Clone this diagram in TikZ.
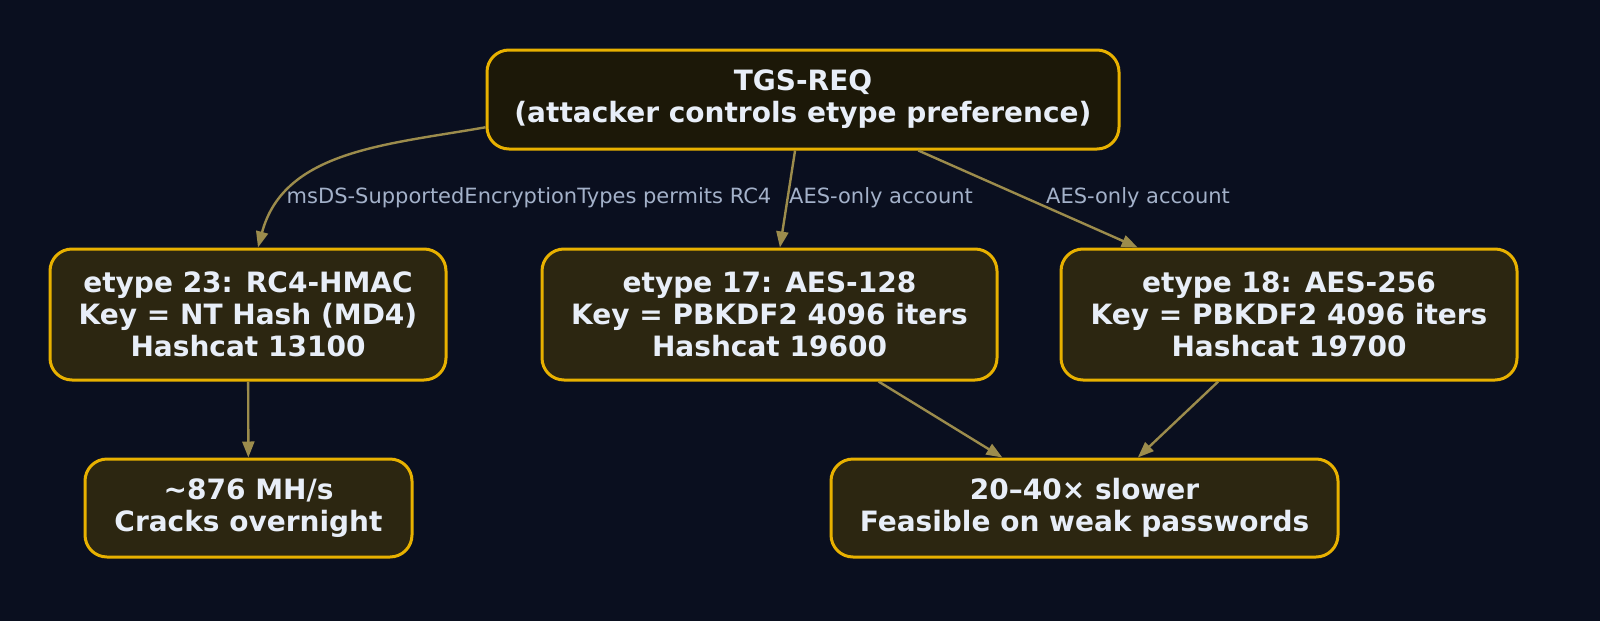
\documentclass[tikz,border=0pt]{standalone}
\usepackage{fontspec}
\setmainfont{DejaVu Sans}
\usetikzlibrary{arrows.meta}
\definecolor{bgnavy}{HTML}{0A0F1F}
\definecolor{topfill}{HTML}{1C1808}
\definecolor{boxfill}{HTML}{2C2611}
\definecolor{gold}{HTML}{E8B100}
\definecolor{wire}{HTML}{9C8C4C}
\definecolor{lbltext}{HTML}{A3B1C9}
\definecolor{boxtext}{HTML}{E8EEF8}

\begin{document}
\begin{tikzpicture}[x=0.5pt,y=-0.5pt,
          box/.style={draw=gold, line width=1.5pt, rounded corners=11pt, fill=boxfill,
            text=boxtext, font=\fontsize{14}{16}\selectfont\bfseries, align=center,
            inner sep=0pt, minimum height=65.5pt},
          elabel/.style={text=lbltext, font=\fontsize{10.5}{12}\selectfont, inner sep=0pt},
          wire/.style={draw=wire, line width=1.2pt, -{Triangle[length=8pt,width=6pt]}}]
          \fill[bgnavy] (0,0) rectangle (1600,621);
          \useasboundingbox (0,0) rectangle (1600,621);
          \node[box, fill=topfill, minimum width=316pt, minimum height=49.5pt] (tgs) at (803,99.5)
            {TGS-REQ\\(attacker controls etype preference)};
          \node[box, minimum width=198pt] (rcfour) at (248,314.5)
            {etype 23: RC4-HMAC\\Key = NT Hash (MD4)\\Hashcat 13100};
          \node[box, minimum width=227.5pt] (aesone) at (769.5,314.5)
            {etype 17: AES-128\\Key = PBKDF2 4096 iters\\Hashcat 19600};
          \node[box, minimum width=228pt] (aestwo) at (1289,314.5)
            {etype 18: AES-256\\Key = PBKDF2 4096 iters\\Hashcat 19700};
          \node[box, minimum width=163.5pt, minimum height=49pt] (crack) at (248.5,508)
            {\textasciitilde876 MH/s\\Cracks overnight};
          \node[box, minimum width=253.5pt, minimum height=49pt] (slow) at (1084.5,508)
            {20–40× slower\\Feasible on weak passwords};
          \draw[wire] (tgs.185) to[out=190,in=75] ([xshift=5pt]rcfour.north);
          \draw[wire] (tgs) -- (aesone);
          \draw[wire] (tgs) -- (aestwo);
          \draw[wire] (rcfour) -- (crack);
          \draw[wire] (aesone) -- (slow);
          \draw[wire] (aestwo) -- (slow);
          \node[elabel] (rcfourlbl) at (529,198) {msDS-SupportedEncryptionTypes permits RC4};
          \node[elabel] (aesonelbl) at (881,198) {AES-only account};
          \node[elabel] (aestwolbl) at (1138,198) {AES-only account};
        \end{tikzpicture}
\end{document}
